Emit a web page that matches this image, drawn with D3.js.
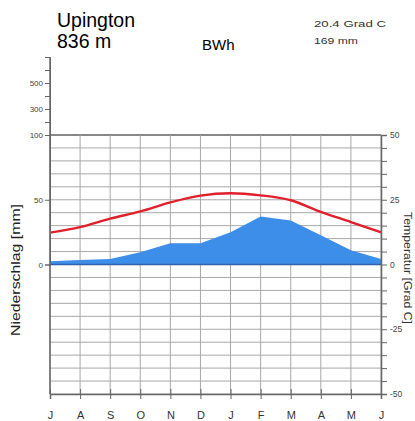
<!DOCTYPE html>
<html>
<head>
<meta charset="utf-8">
<script src="https://cdn.jsdelivr.net/npm/d3@7"></script>
<style>
  body { margin: 0; background: #fff; }
  svg { display: block; font-family: "Liberation Sans", Arial, sans-serif; }
  .grid line { stroke: #a8a8a8; stroke-width: 1; }
  .axis path, .axis line { stroke: #666; }
  .axis text { fill: #444; font-size: 8px; }
</style>
</head>
<body>
<div class="svg-wrapper"></div>
<script>
// climate diagram, southern hemisphere (July first)
var months   = ["J", "A", "S", "O", "N", "D", "J", "F", "M", "A", "M", "J"];
var temp     = [12.3, 14.4, 17.7, 20.5, 24.0, 26.6, 27.5, 26.7, 24.8, 20.3, 16.4, 12.4];
var precip   = [2.5, 3.5, 4.2, 9.5, 16.5, 16.5, 25, 37, 34, 22.5, 11, 4.2];
var station  = "Upington";
var altitude = "836 m";
var climate  = "BWh";
var meanTemp = "20.4 Grad C";
var sumPrec  = "169 mm";

var width = 415, height = 421;
var pLeft = 50, pRight = 381, pTop = 135, pBottom = 394, pZero = 264.5;

var svg = d3.select(".svg-wrapper").append("svg")
	.attr("width", width)
	.attr("height", height);

var xScale = d3.scaleLinear().domain([0, months.length - 1]).range([pLeft, pRight]),
    yP     = d3.scaleLinear().domain([0, 100]).range([pZero, pTop]),
    yHigh  = d3.scaleLinear().domain([100, 700]).range([pTop, 57]),
    yT     = d3.scaleLinear().domain([-50, 50]).range([pBottom, pTop]);

// grid
var grid = svg.append("g").attr("class", "grid");
grid.selectAll(".h")
	.data(d3.range(-50, 51, 5))
	.enter().append("line")
		.attr("x1", pLeft).attr("x2", pRight)
		.attr("y1", function(d) { return yT(d); })
		.attr("y2", function(d) { return yT(d); })
		.style("stroke", function(d) { return d == 50 ? "#888" : "#a8a8a8"; })
		.style("stroke-width", function(d) { return d == 50 ? 2 : 1; });
grid.selectAll(".v")
	.data(d3.range(0, months.length))
	.enter().append("line")
		.attr("y1", pTop).attr("y2", pBottom)
		.attr("x1", function(d) { return xScale(d); })
		.attr("x2", function(d) { return xScale(d); });

// precipitation area
var area = d3.area()
	.x(function(d, i) { return xScale(i); })
	.y0(yP(0))
	.y1(function(d) { return yP(d); });
svg.append("path")
	.datum(precip)
	.attr("d", area)
	.style("fill", "#3d8ee8");

// zero line on top of the area
svg.append("line")
	.attr("x1", pLeft).attr("x2", pRight)
	.attr("y1", yT(0)).attr("y2", yT(0))
	.style("stroke", "#2f62a8").style("stroke-width", 1.5);

// temperature line
var line = d3.line()
	.x(function(d, i) { return xScale(i); })
	.y(function(d) { return yT(d); })
	.curve(d3.curveMonotoneX);
svg.append("path")
	.datum(temp)
	.attr("d", line)
	.style("fill", "none")
	.style("stroke", "#e0202a")
	.style("stroke-width", 2.4);

// left axis (precipitation, compressed above 100)
svg.append("g").attr("class", "axis")
	.attr("transform", "translate(" + pLeft + ",0)")
	.call(d3.axisLeft(yHigh).tickValues(d3.range(100, 701, 100)).tickSize(5).tickPadding(2)
		.tickFormat(function(d) { return (d == 100 || d == 300 || d == 500) ? d : ""; }));
svg.append("g").attr("class", "axis")
	.attr("transform", "translate(" + pLeft + ",0)")
	.call(d3.axisLeft(yP).tickValues([0, 50, 100]).tickSize(5).tickPadding(2)
		.tickFormat(function(d) { return d == 100 ? "" : d; }));
svg.append("line")
	.attr("x1", pLeft).attr("x2", pLeft)
	.attr("y1", yHigh(700)).attr("y2", pBottom)
	.style("stroke", "#666").style("stroke-width", 1.5);

// right axis (temperature)
var g_yT = svg.append("g").attr("class", "axis")
	.attr("transform", "translate(" + pRight + ",0)")
	.call(d3.axisRight(yT).tickValues(d3.range(-50, 51, 5)).tickSize(6).tickPadding(3)
		.tickFormat(function(d) { return d % 25 == 0 ? d : ""; }));
g_yT.select(".domain").style("stroke-width", 1.5);
g_yT.selectAll("text").style("font-size", "8.5px");

// bottom axis (months)
var g_x = svg.append("g").attr("class", "axis")
	.attr("transform", "translate(0," + pBottom + ")")
	.call(d3.axisBottom(xScale).tickValues(d3.range(0, months.length)).tickSize(5).tickPadding(12)
		.tickFormat(function(d) { return months[d]; }));
g_x.select(".domain").style("stroke-width", 1.5);
g_x.selectAll(".tick line").attr("y1", -5);
g_x.selectAll("text").style("font-size", "11px").style("fill", "#333");

// titles
svg.append("text").attr("x", 57).attr("y", 27)
	.style("font-size", "19.5px").text(station);
svg.append("text").attr("x", 57).attr("y", 48)
	.style("font-size", "19.5px").text(altitude);
svg.append("text").attr("x", 202).attr("y", 50)
	.style("font-size", "15px").text(climate);
svg.append("text").attr("x", 314).attr("y", 27)
	.attr("textLength", 72).attr("lengthAdjust", "spacingAndGlyphs")
	.style("font-size", "9.5px").style("fill", "#333").text(meanTemp);
svg.append("text").attr("x", 314).attr("y", 44)
	.attr("textLength", 44).attr("lengthAdjust", "spacingAndGlyphs")
	.style("font-size", "8.5px").style("fill", "#333").text(sumPrec);

// axis titles
svg.append("text")
	.attr("transform", "translate(20,270) rotate(-90)")
	.attr("text-anchor", "middle")
	.attr("textLength", 132).attr("lengthAdjust", "spacingAndGlyphs")
	.style("font-size", "13px").style("fill", "#222")
	.text("Niederschlag [mm]");
svg.append("text")
	.attr("transform", "translate(404,268) rotate(90)")
	.attr("text-anchor", "middle")
	.attr("textLength", 112).attr("lengthAdjust", "spacingAndGlyphs")
	.style("font-size", "10.5px").style("fill", "#333")
	.text("Temperatur [Grad C]");
</script>
</body>
</html>
